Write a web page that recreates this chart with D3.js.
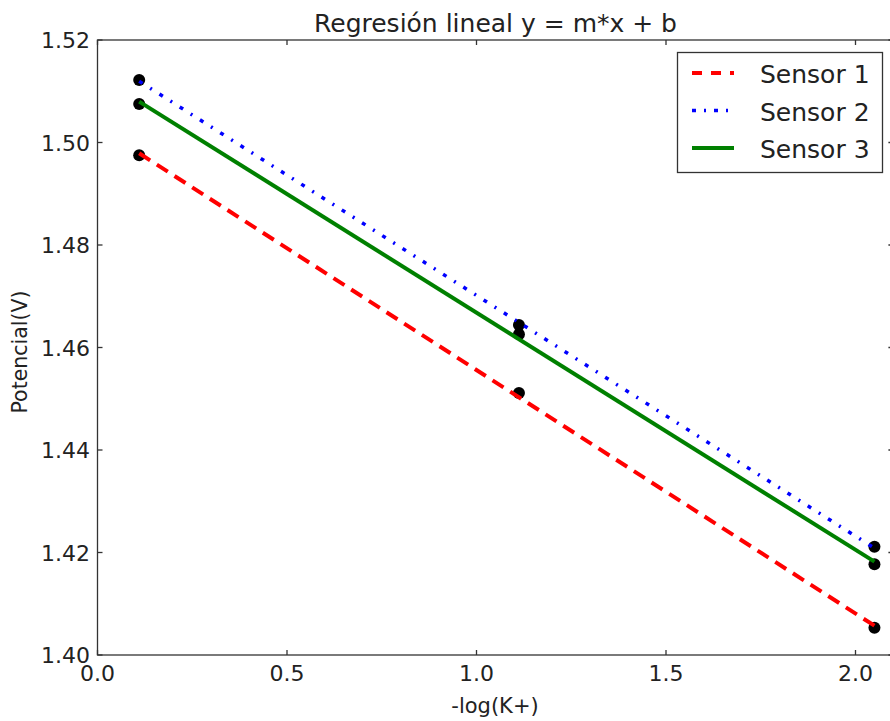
<!DOCTYPE html>
<html><head><meta charset="utf-8">
<script src="https://cdn.jsdelivr.net/npm/d3@7"></script>
<style>body{margin:0;background:#fff}svg{display:block;font-family:"DejaVu Sans",sans-serif}</style>
</head><body><svg id="c" width="890" height="721"></svg>
<script>
const xValues = [0.11, 1.112, 2.05];
const sensor1 = [1.4975, 1.4511, 1.4053];
const sensor2 = [1.5122, 1.4644, 1.4211];
const sensor3 = [1.5075, 1.4626, 1.4177];
const seriesNames = ["Sensor 1", "Sensor 2", "Sensor 3"];
const xTicks = [0.0, 0.5, 1.0, 1.5, 2.0];
const yTicks = [1.40, 1.42, 1.44, 1.46, 1.48, 1.50, 1.52];

const svg = d3.select("#c");
const L = 97.5, T = 40, B = 655, R = 97.5 + 2.1 * 379;
const x = d3.scaleLinear().domain([0, 2.1]).range([L, R]);
const y = d3.scaleLinear().domain([1.40, 1.52]).range([B, T]);

function fit(xs, ys) {
  const mx = d3.mean(xs), my = d3.mean(ys);
  const m = d3.sum(xs, (v, i) => (v - mx) * (ys[i] - my)) / d3.sum(xs, v => (v - mx) ** 2);
  return {m, b: my - m * mx};
}
const series = [
  {name: seriesNames[0], ys: sensor1, color: "#ff0000", dash: "13,8", ldash: "10,9", w: 4},
  {name: seriesNames[1], ys: sensor2, color: "#0000ff", dash: "4,9,2,9", ldash: "4,8,2,8", w: 3.5},
  {name: seriesNames[2], ys: sensor3, color: "#008000", dash: null, ldash: null, w: 4}
];

// points
series.forEach(s => {
  svg.append("g").selectAll("circle").data(xValues).join("circle")
    .attr("cx", d => x(d)).attr("cy", (d, i) => y(s.ys[i])).attr("r", 6).attr("fill", "#000");
});
// regression lines
const line = d3.line().x(d => x(d[0])).y(d => y(d[1]));
series.forEach(s => {
  const f = fit(xValues, s.ys);
  const x0 = d3.min(xValues), x1 = d3.max(xValues);
  svg.append("path").datum([[x0, f.m * x0 + f.b], [x1, f.m * x1 + f.b]])
    .attr("d", line).attr("fill", "none").attr("stroke", s.color)
    .attr("stroke-width", s.w).attr("stroke-dasharray", s.dash);
});

// axes
const tl = 5;
const ax = svg.append("g").attr("stroke", "#333").attr("stroke-width", 1.3);
ax.append("rect").attr("x", L).attr("y", T).attr("width", R - L).attr("height", B - T).attr("fill", "none");
xTicks.forEach(t => {
  ax.append("line").attr("x1", x(t)).attr("x2", x(t)).attr("y1", B).attr("y2", B - tl);
  ax.append("line").attr("x1", x(t)).attr("x2", x(t)).attr("y1", T).attr("y2", T + tl);
});
yTicks.forEach(t => {
  ax.append("line").attr("x1", L).attr("x2", L + tl).attr("y1", y(t)).attr("y2", y(t));
  ax.append("line").attr("x1", R).attr("x2", R - tl).attr("y1", y(t)).attr("y2", y(t));
});
svg.append("g").selectAll("text").data(xTicks).join("text")
  .attr("x", d => x(d)).attr("y", 681).attr("text-anchor", "middle")
  .attr("font-size", 22).attr("fill", "#222").text(d => d3.format(".1f")(d));
svg.append("g").selectAll("text").data(yTicks).join("text")
  .attr("x", 90).attr("y", d => y(d) + 8).attr("text-anchor", "end")
  .attr("font-size", 22).attr("fill", "#222").text(d => d3.format(".2f")(d));

svg.append("text").attr("x", 495.5).attr("y", 32).attr("text-anchor", "middle")
  .attr("font-size", 25).attr("fill", "#222").text("Regresión lineal y = m*x + b");
svg.append("text").attr("x", 495).attr("y", 713).attr("text-anchor", "middle")
  .attr("font-size", 21).attr("fill", "#222").text("-log(K+)");
svg.append("text").attr("transform", "translate(27,352) rotate(-90)").attr("text-anchor", "middle")
  .attr("font-size", 20.5).attr("fill", "#222").text("Potencial(V)");

// legend
const lg = svg.append("g");
lg.append("rect").attr("x", 677.5).attr("y", 52.5).attr("width", 205).attr("height", 120)
  .attr("fill", "#fff").attr("stroke", "#333").attr("stroke-width", 1.3);
series.forEach((s, i) => {
  const yy = 73 + i * 37.5;
  lg.append("line").attr("x1", 692).attr("x2", 734).attr("y1", yy).attr("y2", yy)
    .attr("stroke", s.color).attr("stroke-width", s.w).attr("stroke-dasharray", s.ldash);
  lg.append("text").attr("x", 760).attr("y", yy + 10).attr("font-size", 25).attr("fill", "#222").text(s.name);
});
</script></body></html>
